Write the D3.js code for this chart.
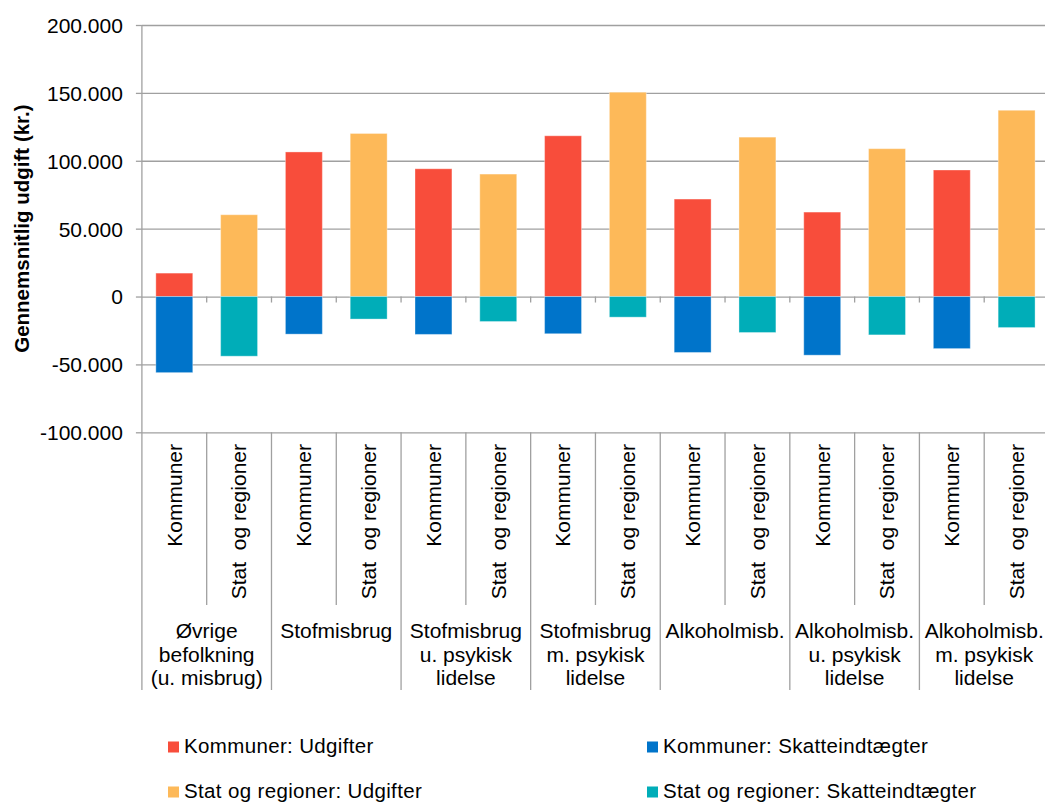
<!DOCTYPE html>
<html>
<head>
<meta charset="utf-8">
<script src="https://cdn.jsdelivr.net/npm/d3@7"></script>
<style>
  body { margin: 0; background: #fff; }
  text { font-family: "Liberation Sans", Arial, sans-serif; fill: #000; }
</style>
</head>
<body>
<svg id="stage" width="1045" height="803"></svg>
<script>

//Group labels (one entry per line)
var groups = [
  ["Øvrige", "befolkning", "(u. misbrug)"],
  ["Stofmisbrug"],
  ["Stofmisbrug", "u. psykisk", "lidelse"],
  ["Stofmisbrug", "m. psykisk", "lidelse"],
  ["Alkoholmisb."],
  ["Alkoholmisb.", "u. psykisk", "lidelse"],
  ["Alkoholmisb.", "m. psykisk", "lidelse"]
];
var sectors = ["Kommuner", "Stat  og regioner"];

//values per bar, Kommuner / Stat alternating
var udgifter = [17250, 60250, 106500, 120100, 94100, 90200, 118400, 150500, 71800, 117400, 62200, 108900, 93200, 137200];
var skatteindtaegter = [-56050, -43950, -27700, -16600, -27900, -18400, -27400, -15200, -41200, -26500, -43200, -28250, -38350, -22850];

var yTicks = [-100000, -50000, 0, 50000, 100000, 150000, 200000];
var seriesNames = ["Kommuner: Udgifter", "Kommuner: Skatteindtægter", "Stat og regioner: Udgifter", "Stat og regioner: Skatteindtægter"];
var seriesColors = ["#F84D3B", "#0074CA", "#FDB959", "#00ADB8"];

var svg = d3.select("#stage");

//Plot area
var plotLeft = 141.9, plotRight = 1049, plotTop = 25, plotBottom = 432.3;

var bars = d3.range(udgifter.length);

var x = d3.scaleBand().domain(bars).range([plotLeft, plotRight]).paddingInner(0.43).paddingOuter(0.215);
var y = d3.scaleLinear().domain([-100000, 200000]).range([plotBottom, plotTop]);

//danish style: dot as thousands separator, plain hyphen for minus
var fmt = function(v){
  return v === 0 ? "0" : d3.format(",")(v).replace(/,/g, ".").replace("\u2212", "-");
};

//gridlines + y tick labels through axis
var yAxis = svg.append("g")
  .attr("transform", "translate(" + plotLeft + ",0)")
  .call(d3.axisLeft(y).tickValues(yTicks).tickSize(6).tickFormat(fmt));
yAxis.select(".domain").remove();
yAxis.selectAll(".tick line").attr("stroke", "#a0a0a0").attr("stroke-width", 1.3);
yAxis.selectAll(".tick").append("line")
  .attr("x1", 0).attr("x2", plotRight - plotLeft)
  .attr("stroke", "#a0a0a0").attr("stroke-width", 1.3);
yAxis.selectAll(".tick text")
  .attr("x", -19)
  .attr("dy", "0.35em")
  .style("font-size", "21px")
  .style("font-family", "'Liberation Sans', Arial, sans-serif")
  .attr("fill", "#000");

//vertical axis line, runs down through the label area
svg.append("line")
  .attr("x1", plotLeft).attr("x2", plotLeft).attr("y1", plotTop).attr("y2", 690)
  .attr("stroke", "#a0a0a0").attr("stroke-width", 1.3);

//tick marks on the zero line
svg.append("g").selectAll("line")
  .data(d3.range(1, bars.length))
  .enter().append("line")
  .attr("x1", function(i){ return x(i) - x.step() * x.paddingInner() / 2; })
  .attr("x2", function(i){ return x(i) - x.step() * x.paddingInner() / 2; })
  .attr("y1", y(0)).attr("y2", y(0) + 6)
  .attr("stroke", "#a0a0a0").attr("stroke-width", 1.3);

//separators below the plot
svg.append("g").selectAll("line")
  .data(d3.range(1, bars.length + 1))
  .enter().append("line")
  .attr("x1", function(i){ return x(i - 1) + x.bandwidth() + x.step() * x.paddingInner() / 2; })
  .attr("x2", function(i){ return x(i - 1) + x.bandwidth() + x.step() * x.paddingInner() / 2; })
  .attr("y1", plotBottom)
  .attr("y2", function(i){ return i % 2 === 0 ? 690 : 605; })
  .attr("stroke", "#a0a0a0").attr("stroke-width", 1.3);

function barColor(i, positive){
  var k = (i % 2) * 2 + (positive ? 0 : 1);
  return seriesColors[k];
}

//bars: udgifter up, skatteindtaegter down
svg.append("g").selectAll("rect.up")
  .data(bars)
  .enter().append("rect")
  .attr("x", function(i){ return x(i); })
  .attr("width", x.bandwidth())
  .attr("y", function(i){ return y(udgifter[i]); })
  .attr("height", function(i){ return y(0) - y(udgifter[i]); })
  .attr("fill", function(i){ return barColor(i, true); })
  .attr("stroke", "rgba(255,255,255,0.35)");

svg.append("g").selectAll("rect.down")
  .data(bars)
  .enter().append("rect")
  .attr("x", function(i){ return x(i); })
  .attr("width", x.bandwidth())
  .attr("y", y(0))
  .attr("height", function(i){ return y(skatteindtaegter[i]) - y(0); })
  .attr("fill", function(i){ return barColor(i, false); })
  .attr("stroke", "rgba(255,255,255,0.35)");

//sector labels (rotated)
svg.append("g").selectAll("text")
  .data(bars)
  .enter().append("text")
  .attr("transform", function(i){ return "translate(" + (x(i) + x.bandwidth() / 2) + ",444) rotate(-90)"; })
  .attr("text-anchor", "end")
  .attr("dy", "0.35em")
  .style("font-size", "21px")
  .style("white-space", "pre")
  .text(function(i){ return sectors[i % 2]; });

//group labels
var groupG = svg.append("g").selectAll("text")
  .data(groups)
  .enter().append("text")
  .attr("text-anchor", "middle")
  .style("font-size", "21px");
groupG.selectAll("tspan")
  .data(function(d, gi){ return d.map(function(line){ return {line: line, gi: gi}; }); })
  .enter().append("tspan")
  .attr("x", function(d){ return (x(d.gi * 2) + x(d.gi * 2 + 1) + x.bandwidth()) / 2; })
  .attr("y", function(d, li){ return 638 + li * 23.5; })
  .text(function(d){ return d.line; });

//y axis title
svg.append("text")
  .attr("transform", "translate(29," + ((plotTop + plotBottom) / 2) + ") rotate(-90)")
  .attr("text-anchor", "middle")
  .style("font-size", "20.5px")
  .style("font-weight", "bold")
  .text("Gennemsnitlig udgift (kr.)");

//legend
var legendPos = [[168, 741.5], [647, 741.5], [168, 786.5], [647, 786.5]];
var order = [0, 1, 2, 3];
var legend = svg.append("g").selectAll("g")
  .data(order)
  .enter().append("g")
  .attr("transform", function(k){ return "translate(" + legendPos[k][0] + "," + legendPos[k][1] + ")"; });
legend.append("rect")
  .attr("width", 11).attr("height", 11)
  .attr("fill", function(k){ return seriesColors[k]; });
legend.append("text")
  .attr("x", 16).attr("y", 11)
  .style("font-size", "20.5px")
  .style("letter-spacing", "0.35px")
  .text(function(k){ return seriesNames[k]; });

</script>
</body>
</html>
